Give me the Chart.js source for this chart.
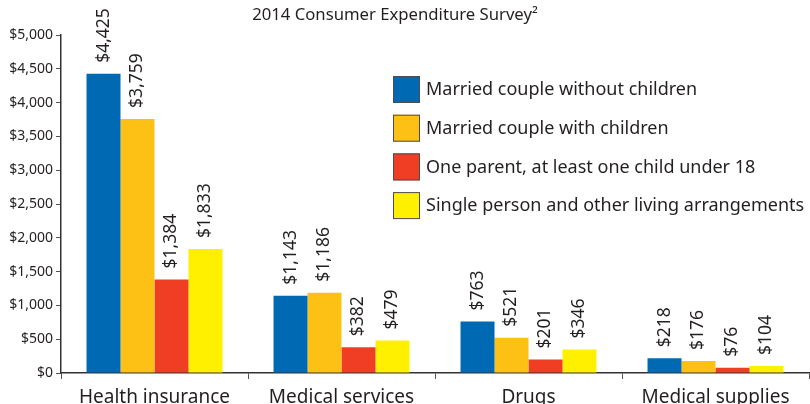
<!DOCTYPE html>
<html>
<head>
<meta charset="utf-8">
<script src="https://cdn.jsdelivr.net/npm/chart.js@4"></script>
<style>
  html, body { margin: 0; padding: 0; background: #fff; }
  #wrap { width: 810px; height: 404px; }
</style>
</head>
<body>
<div id="wrap"><canvas id="chart" width="810" height="404"></canvas></div>
<script>
  'use strict';

  // Chart data.
  var categories = ['Health insurance', 'Medical services', 'Drugs', 'Medical supplies'];
  var seriesNames = [
    'Married couple without children',
    'Married couple with children',
    'One parent, at least one child under 18',
    'Single person and other living arrangements'
  ];
  var withoutChildren = [4425, 1143, 763, 218];
  var withChildren = [3759, 1186, 521, 176];
  var oneParent = [1384, 382, 201, 76];
  var singlePerson = [1833, 479, 346, 104];
  var seriesColors = ['#0069b4', '#fdc015', '#ef3e24', '#fff000'];
  var titleText = '2014 Consumer Expenditure Survey\u00b2';

  var FONT = '"Noto Sans", sans-serif';
  var INK = '#231f20';

  function money(v) {
    return '$' + Number(v).toLocaleString('en-US');
  }

  // Draws title, value labels and legend box.
  var extras = {
    id: 'extras',
    afterDatasetsDraw: function (chart) {
      var ctx = chart.ctx;
      ctx.save();
      ctx.fillStyle = INK;
      ctx.font = '17.5px ' + FONT;
      ctx.textAlign = 'left';
      ctx.textBaseline = 'middle';
      chart.data.datasets.forEach(function (ds, i) {
        chart.getDatasetMeta(i).data.forEach(function (bar, j) {
          ctx.save();
          ctx.translate(bar.x, bar.y - 11);
          ctx.rotate(-Math.PI / 2);
          ctx.fillText(money(ds.data[j]), 0, 0);
          ctx.restore();
        });
      });

      // Title.
      ctx.font = '16.7px ' + FONT;
      ctx.textAlign = 'center';
      ctx.textBaseline = 'alphabetic';
      ctx.fillText(titleText, 395, 20);

      // Legend.
      ctx.font = '18px ' + FONT;
      ctx.textAlign = 'left';
      ctx.textBaseline = 'middle';
      chart.data.datasets.forEach(function (ds, i) {
        var y = 76 + i * 38.7;
        ctx.fillStyle = ds.backgroundColor;
        ctx.fillRect(393, y, 27, 27);
        ctx.strokeStyle = '#4d4d4f';
        ctx.lineWidth = 1;
        ctx.strokeRect(393.5, y + 0.5, 26, 26);
        ctx.fillStyle = INK;
        ctx.fillText(ds.label, 426, y + 14);
      });
      ctx.restore();
    }
  };

  var dataArrays = [withoutChildren, withChildren, oneParent, singlePerson];

  new Chart(document.getElementById('chart'), {
    type: 'bar',
    data: {
      labels: categories,
      datasets: dataArrays.map(function (arr, i) {
        return {
          label: seriesNames[i],
          data: arr,
          backgroundColor: seriesColors[i],
          borderWidth: 0,
          barPercentage: 1,
          categoryPercentage: 0.727
        };
      })
    },
    options: {
      responsive: false,
      animation: false,
      layout: { padding: { top: 35, right: 1, left: 0, bottom: 0 } },
      plugins: {
        legend: { display: false },
        title: { display: false },
        tooltip: { enabled: false }
      },
      scales: {
        x: {
          afterFit: function (scale) { scale.height = 31; },
          border: { display: true, color: '#333', width: 1.5 },
          grid: {
            offset: true,
            drawOnChartArea: false,
            drawTicks: true,
            tickLength: 6,
            color: '#555'
          },
          ticks: {
            color: INK,
            padding: 7,
            font: { family: FONT, size: 19 }
          }
        },
        y: {
          min: 0,
          max: 5000,
          afterFit: function (scale) { scale.width = 61; },
          border: { display: true, color: '#333', width: 1.5 },
          grid: {
            drawOnChartArea: false,
            drawTicks: true,
            tickLength: 5,
            color: '#555'
          },
          ticks: {
            stepSize: 500,
            color: INK,
            padding: 3,
            font: { family: FONT, size: 14 },
            callback: function (v) { return money(v); }
          }
        }
      }
    },
    plugins: [extras]
  });
</script>
</body>
</html>
